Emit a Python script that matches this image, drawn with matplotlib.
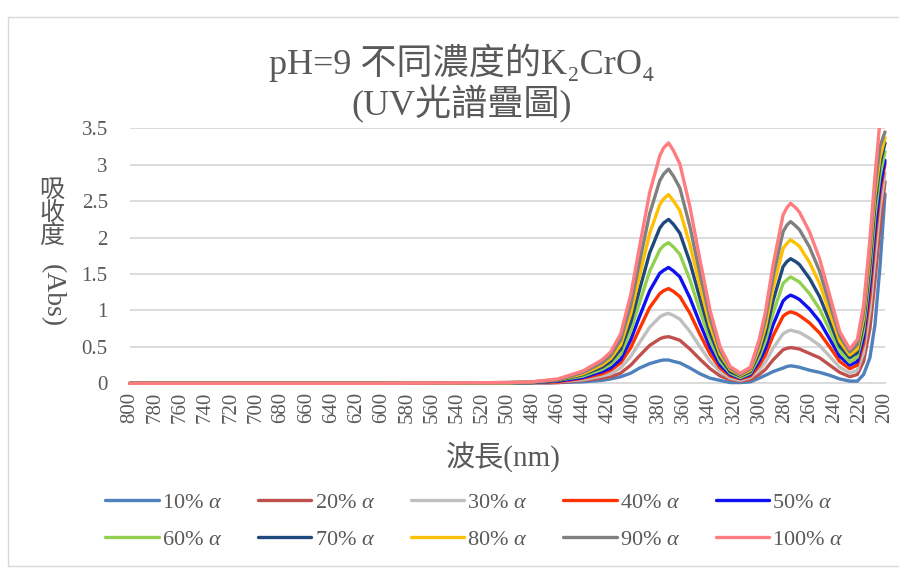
#!/usr/bin/env python3

import matplotlib
matplotlib.use("Agg")
import matplotlib.pyplot as plt
from matplotlib.patches import Rectangle

plt.rcParams['font.family'] = ['Liberation Serif', 'Noto Sans CJK TC', 'DejaVu Sans']
plt.rcParams['mathtext.fontset'] = 'custom'
plt.rcParams['mathtext.rm'] = 'Liberation Serif'
plt.rcParams['mathtext.it'] = 'Liberation Serif:italic'

TEXT_COLOR = '#595959'

# * Spectra, absorbance vs wavelength [nm]

wavelength = [800, 600, 500, 480, 460, 440, 425, 418, 410, 402,
              395, 387, 379, 376, 372, 368, 363, 355, 347, 339,
              331, 323, 315, 307, 300, 295, 289, 281, 278, 275,
              271, 268, 260, 252, 244, 236, 228, 222, 217, 212,
              208, 204, 200]

abs_10 = [0, 0, 0, 0, 0.01, 0.02, 0.04, 0.06, 0.09, 0.14,
          0.21, 0.27, 0.31, 0.32, 0.32, 0.30, 0.28, 0.21, 0.13, 0.07,
          0.04, 0.01, 0.01, 0.02, 0.07, 0.11, 0.16, 0.21, 0.23, 0.24,
          0.23, 0.22, 0.18, 0.15, 0.11, 0.06, 0.03, 0.03, 0.12, 0.35,
          0.80, 1.60, 2.60]
abs_20 = [0, 0, 0, 0, 0.01, 0.04, 0.07, 0.09, 0.14, 0.25,
          0.38, 0.52, 0.61, 0.63, 0.64, 0.62, 0.59, 0.47, 0.33, 0.20,
          0.10, 0.05, 0.03, 0.05, 0.12, 0.19, 0.32, 0.46, 0.48, 0.49,
          0.48, 0.47, 0.41, 0.35, 0.25, 0.15, 0.09, 0.12, 0.30, 0.75,
          1.40, 2.15, 2.77]
abs_30 = [0, 0, 0, 0, 0.02, 0.05, 0.10, 0.13, 0.21, 0.37,
          0.56, 0.77, 0.91, 0.94, 0.96, 0.93, 0.88, 0.71, 0.50, 0.30,
          0.16, 0.07, 0.04, 0.08, 0.18, 0.29, 0.48, 0.68, 0.71, 0.73,
          0.71, 0.70, 0.62, 0.52, 0.37, 0.22, 0.14, 0.18, 0.42, 1.00,
          1.70, 2.40, 2.88]
abs_40 = [0, 0, 0, 0.01, 0.02, 0.07, 0.13, 0.18, 0.28, 0.49,
          0.75, 1.04, 1.23, 1.27, 1.30, 1.26, 1.19, 0.96, 0.67, 0.40,
          0.21, 0.10, 0.06, 0.10, 0.24, 0.39, 0.65, 0.92, 0.96, 0.98,
          0.96, 0.93, 0.83, 0.69, 0.50, 0.30, 0.20, 0.25, 0.55, 1.20,
          1.95, 2.60, 3.02]
abs_50 = [0, 0, 0, 0.01, 0.03, 0.08, 0.16, 0.21, 0.33, 0.60,
          0.92, 1.27, 1.51, 1.55, 1.59, 1.54, 1.46, 1.17, 0.82, 0.49,
          0.25, 0.12, 0.07, 0.12, 0.30, 0.48, 0.80, 1.13, 1.18, 1.21,
          1.18, 1.15, 1.02, 0.85, 0.61, 0.37, 0.25, 0.30, 0.63, 1.35,
          2.10, 2.70, 3.06]
abs_60 = [0, 0, 0, 0.01, 0.04, 0.10, 0.19, 0.26, 0.40, 0.72,
          1.11, 1.54, 1.83, 1.89, 1.93, 1.87, 1.77, 1.42, 0.99, 0.59,
          0.30, 0.14, 0.08, 0.14, 0.36, 0.58, 0.96, 1.37, 1.42, 1.46,
          1.42, 1.39, 1.23, 1.02, 0.73, 0.44, 0.29, 0.36, 0.73, 1.50,
          2.30, 2.85, 3.18]
abs_70 = [0, 0, 0.01, 0.01, 0.04, 0.12, 0.22, 0.30, 0.47, 0.84,
          1.29, 1.79, 2.13, 2.20, 2.25, 2.18, 2.06, 1.66, 1.16, 0.69,
          0.35, 0.16, 0.10, 0.16, 0.42, 0.68, 1.13, 1.60, 1.67, 1.71,
          1.67, 1.63, 1.44, 1.19, 0.85, 0.51, 0.35, 0.42, 0.82, 1.62,
          2.45, 3.00, 3.30]
abs_80 = [0, 0, 0.01, 0.02, 0.05, 0.13, 0.25, 0.34, 0.53, 0.96,
          1.48, 2.06, 2.45, 2.53, 2.59, 2.50, 2.37, 1.90, 1.33, 0.79,
          0.40, 0.19, 0.11, 0.18, 0.48, 0.78, 1.30, 1.85, 1.92, 1.97,
          1.92, 1.88, 1.66, 1.37, 0.97, 0.58, 0.39, 0.47, 0.90, 1.75,
          2.58, 3.10, 3.37]
abs_90 = [0, 0, 0.01, 0.02, 0.05, 0.15, 0.28, 0.38, 0.60, 1.08,
          1.67, 2.33, 2.78, 2.87, 2.94, 2.84, 2.68, 2.15, 1.50, 0.89,
          0.45, 0.21, 0.12, 0.20, 0.54, 0.88, 1.46, 2.08, 2.17, 2.22,
          2.16, 2.11, 1.87, 1.54, 1.09, 0.65, 0.43, 0.53, 0.98, 1.86,
          2.70, 3.25, 3.45]
abs_100 = [0, 0, 0.01, 0.02, 0.06, 0.17, 0.32, 0.43, 0.68, 1.22,
           1.88, 2.62, 3.12, 3.23, 3.30, 3.19, 3.01, 2.42, 1.69, 1.00,
           0.50, 0.23, 0.14, 0.22, 0.60, 0.98, 1.62, 2.31, 2.41, 2.47,
           2.41, 2.35, 2.08, 1.71, 1.21, 0.71, 0.47, 0.60, 1.07, 1.97,
           2.84, 3.60, 4.00]

series = [abs_10, abs_20, abs_30, abs_40, abs_50,
          abs_60, abs_70, abs_80, abs_90, abs_100]
labels = ['10%', '20%', '30%', '40%', '50%',
          '60%', '70%', '80%', '90%', '100%']
colors = ['#4F81BD', '#C0504D', '#BFBFBF', '#FF3300', '#1010F0',
          '#92D050', '#1F497D', '#FFC000', '#808080', '#FF7C80']

x_ticks = list(range(800, 199, -20))
y_ticks = [0, 0.5, 1, 1.5, 2, 2.5, 3, 3.5]

# * Figure

fig = plt.figure(figsize=(8.99, 5.71), dpi=100)
ax = fig.add_axes([130 / 899, 1 - 383.3 / 571, 755 / 899, 255 / 571])

# Light frame around the whole chart.
fig.patches.append(Rectangle((8 / 899, 5 / 571), 0.995, 1 - 22 / 571,
                             transform=fig.transFigure, fill=False,
                             edgecolor='#d9d9d9', linewidth=1.0))

# Let the thick lines spill a little past the plot area at the base.
clip = Rectangle((-0.01, -0.03), 1.02, 1.03, transform=ax.transAxes)

handles = []
for y, lab, col in zip(series, labels, colors):
    line, = ax.plot(wavelength, y, color=col, lw=2.4, label=lab + r' $\alpha$',
                    solid_joinstyle='round', solid_capstyle='round', zorder=3)
    line.set_clip_path(clip)
    handles.append(line)

ax.set_xlim(800, 200)
ax.set_ylim(0, 3.5)
ax.set_xticks(x_ticks)
ax.set_xticklabels([str(t) for t in x_ticks], rotation=90)
ax.set_yticks(y_ticks)
ax.set_yticklabels(['{:g}'.format(t) for t in y_ticks])

ax.grid(axis='y', color='#d9d9d9', lw=1.3, zorder=0)
for s in ('left', 'right', 'top'):
    ax.spines[s].set_visible(False)
ax.spines['bottom'].set_color('#d9d9d9')
ax.spines['bottom'].set_linewidth(1.3)
ax.tick_params(axis='both', length=0, labelsize=15, labelcolor=TEXT_COLOR)
ax.tick_params(axis='y', pad=16)
ax.tick_params(axis='x', pad=6)

# Titles
fig.text(0.514, 1 - 63 / 571, 'pH=9 不同濃度的K₂CrO₄', ha='center', va='center',
         fontsize=26, color=TEXT_COLOR)
fig.text(0.514, 1 - 104 / 571, '(UV光譜疊圖)', ha='center', va='center',
         fontsize=26, color=TEXT_COLOR)

# Axis titles
fig.text(503 / 899, 1 - 457 / 571, '波長(nm)', ha='center', va='center',
         fontsize=21, color=TEXT_COLOR)
fig.text(52 / 899, 1 - 214 / 571, '吸\n收\n度', ha='center', va='center',
         fontsize=18, color=TEXT_COLOR, linespacing=1.0)
fig.text(52 / 899, 1 - 296 / 571, '(Abs)', ha='center', va='center',
         rotation=-90, fontsize=20, color=TEXT_COLOR, family='Liberation Serif')

# Legend is filled row by row: 10..50 on top, 60..100 below.
order = [0, 5, 1, 6, 2, 7, 3, 8, 4, 9]
fig.legend([handles[i] for i in order], [handles[i].get_label() for i in order],
           ncol=5, loc='center', bbox_to_anchor=(0.528, 1 - 521 / 571),
           frameon=False, fontsize=16, labelcolor=TEXT_COLOR,
           handlelength=2.4, handletextpad=0.15, columnspacing=1.6,
           labelspacing=0.75)

fig.savefig('out.png', dpi=100)
